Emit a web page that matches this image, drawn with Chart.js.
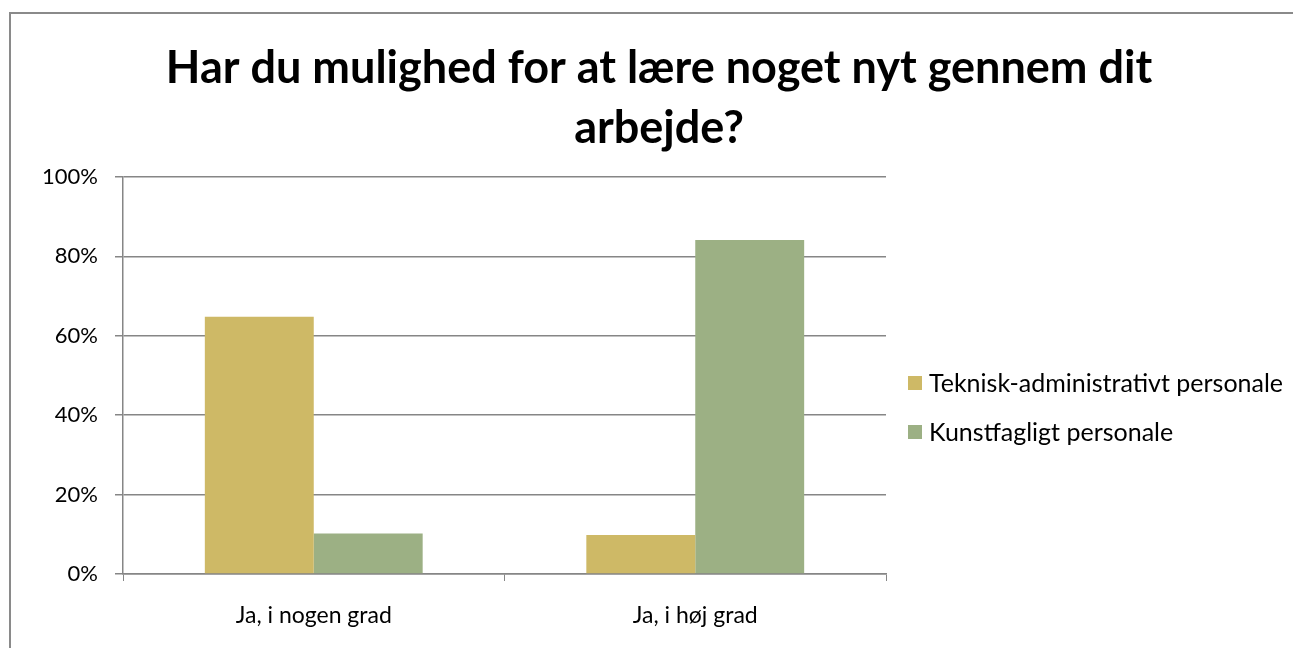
<!DOCTYPE html>
<html><head><meta charset="utf-8">
<script src="https://cdn.jsdelivr.net/npm/chart.js@4"></script>
<style>
html,body{margin:0;padding:0;background:#fff;overflow:hidden;}
#wrap{position:relative;width:1293px;height:648px;}
#frame{position:absolute;left:9px;top:12px;width:1300px;height:700px;border:2px solid #8a8a8a;box-sizing:border-box;}
canvas{position:absolute;left:0;top:0;}
</style></head>
<body><div id="wrap"><div id="frame"></div><canvas id="c" width="1293" height="648"></canvas></div>
<script>
const titleLines = ["Har du mulighed for at lære noget nyt gennem dit", "arbejde?"];
const categories = ["Ja, i nogen grad", "Ja, i høj grad"];
const seriesNames = ["Teknisk-administrativt personale", "Kunstfagligt personale"];
const teknisk = [64.8, 9.8];
const kunstfagligt = [10.2, 84.1];
const seriesColors = ["#CEB966", "#9CB084"];
const yTicks = [0, 20, 40, 60, 80, 100];

const FONT = "Lato, 'Open Sans', sans-serif";

const overlay = {
  id: 'overlay',
  afterDraw(chart) {
    const ctx = chart.ctx;
    ctx.save();
    ctx.fillStyle = '#000';
    ctx.font = "bold 45px " + FONT;
    ctx.textAlign = 'center';
    ctx.textBaseline = 'middle';
    ctx.fillText(titleLines[0], 659, 68);
    ctx.fillText(titleLines[1], 659, 128);
    // legend
    ctx.font = "25px " + FONT;
    ctx.textAlign = 'left';
    chart.data.datasets.forEach((ds, i) => {
      const y = 383 + i * 49;
      ctx.fillStyle = ds.backgroundColor;
      ctx.fillRect(908, y - 7, 14, 14);
      ctx.fillStyle = '#000';
      ctx.fillText(ds.label, 929, y + 1);
    });
    ctx.restore();
  }
};

new Chart(document.getElementById('c'), {
  type: 'bar',
  data: {
    labels: categories,
    datasets: [
      {label: seriesNames[0], data: teknisk, backgroundColor: seriesColors[0], borderWidth: 0,
       categoryPercentage: 0.571, barPercentage: 1.0},
      {label: seriesNames[1], data: kunstfagligt, backgroundColor: seriesColors[1], borderWidth: 0,
       categoryPercentage: 0.571, barPercentage: 1.0}
    ]
  },
  options: {
    responsive: false,
    animation: false,
    layout: {padding: {left: 0, right: 407, top: 177, bottom: 0}},
    plugins: {legend: {display: false}, title: {display: false}, tooltip: {enabled: false}},
    scales: {
      x: {
        afterFit(s) { s.height = 74; },
        grid: {display: true, drawOnChartArea: false, drawTicks: true, tickLength: 7, color: '#868686', offset: true},
        border: {display: true, color: '#868686', width: 1.5},
        ticks: {color: '#000', font: {family: FONT, size: 23}, padding: 21}
      },
      y: {
        min: 0, max: 100,
        afterFit(s) { s.width = 123; },
        afterBuildTicks(s) { s.ticks = yTicks.map(v => ({value: v})); },
        grid: {color: '#868686', lineWidth: 1.5, tickLength: 8, drawTicks: true},
        border: {display: true, color: '#868686', width: 1.5},
        ticks: {color: '#000', font: {family: FONT, size: 22}, padding: 17, callback: v => v + '%'}
      }
    }
  },
  plugins: [overlay]
});
</script></body></html>
